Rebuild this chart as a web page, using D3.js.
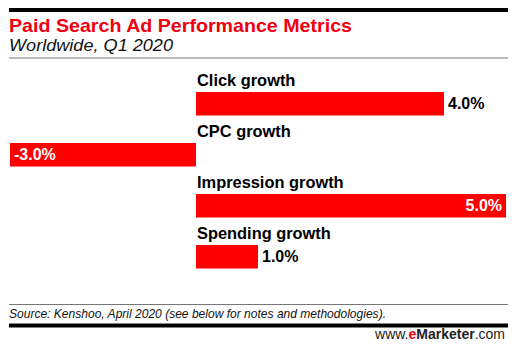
<!DOCTYPE html>
<html><head><meta charset="utf-8">
<script src="https://cdn.jsdelivr.net/npm/d3@7/dist/d3.min.js"></script>
<style>body{margin:0;background:#fff}svg{display:block}</style>
</head><body>
<script>
const categories = ["Click growth", "CPC growth", "Impression growth", "Spending growth"];
const values = [4.0, -3.0, 5.0, 1.0];
const valueLabels = ["4.0%", "-3.0%", "5.0%", "1.0%"];
const xDomain = [-3, 5];

const W = 527, H = 358;
const svg = d3.select("body").append("svg").attr("width", W).attr("height", H);
svg.append("rect").attr("width", W).attr("height", H).attr("fill", "#fff");

const left = 9, right = 508;
svg.append("rect").attr("x", left).attr("y", 8).attr("width", right - left).attr("height", 4).attr("fill", "#000");
svg.append("text").attr("x", left).attr("y", 32)
  .attr("font-family", "Liberation Sans, Arial, sans-serif").attr("font-weight", 900)
  .attr("font-size", 19).attr("fill", "#f00010")
  .attr("textLength", 343).attr("lengthAdjust", "spacingAndGlyphs")
  .text("Paid Search Ad Performance Metrics");
svg.append("text").attr("x", left).attr("y", 51)
  .attr("font-family", "Liberation Sans, Arial, sans-serif").attr("font-style", "italic")
  .attr("font-size", 17).attr("fill", "#111")
  .attr("textLength", 164).attr("lengthAdjust", "spacingAndGlyphs")
  .text("Worldwide, Q1 2020");
svg.append("rect").attr("x", left).attr("y", 57.5).attr("width", right - left).attr("height", 1).attr("fill", "#777");

const x = d3.scaleLinear().domain(xDomain).range([10, 506]);
const y = d3.scaleBand().domain(categories).range([66, 270]).paddingInner(0);

const rows = svg.append("g").selectAll("g").data(categories).join("g")
  .attr("transform", d => `translate(0,${y(d)})`);

rows.append("text").attr("x", x(0) + 1).attr("y", 20)
  .attr("font-family", "Liberation Sans, Arial, sans-serif").attr("font-weight", 700)
  .attr("font-size", 16.4).attr("fill", "#000")
  .text(d => d);

rows.append("rect")
  .attr("x", (d, i) => x(Math.min(0, values[i])))
  .attr("y", 26)
  .attr("width", (d, i) => Math.abs(x(values[i]) - x(0)))
  .attr("height", 23.5)
  .attr("fill", "#ff0000");

rows.append("text")
  .attr("x", (d, i) => {
    const v = values[i];
    if (v === xDomain[0]) return x(v) + 4;
    if (v === xDomain[1]) return x(v) - 4;
    return x(v) + 4;
  })
  .attr("text-anchor", (d, i) => values[i] === xDomain[1] ? "end" : "start")
  .attr("y", 43)
  .attr("font-family", "Liberation Sans, Arial, sans-serif").attr("font-weight", 700)
  .attr("font-size", 16)
  .attr("fill", (d, i) => (values[i] === xDomain[0] || values[i] === xDomain[1]) ? "#fff" : "#000")
  .text((d, i) => valueLabels[i]);

svg.append("rect").attr("x", left).attr("y", 304).attr("width", right - left).attr("height", 1).attr("fill", "#777");
svg.append("text").attr("x", left).attr("y", 318)
  .attr("font-family", "Liberation Sans, Arial, sans-serif").attr("font-style", "italic")
  .attr("font-size", 12.2).attr("fill", "#111")
  .attr("textLength", 377).attr("lengthAdjust", "spacingAndGlyphs")
  .text("Source: Kenshoo, April 2020 (see below for notes and methodologies).");
svg.append("rect").attr("x", left).attr("y", 323.5).attr("width", right - left).attr("height", 4).attr("fill", "#000");
const ft = svg.append("text").attr("x", 505).attr("y", 339).attr("text-anchor", "end")
  .attr("font-family", "Liberation Sans, Arial, sans-serif").attr("font-size", 14).attr("fill", "#222");
ft.append("tspan").text("www.");
ft.append("tspan").attr("fill", "#e8000b").attr("font-weight", 700).text("e");
ft.append("tspan").attr("font-weight", 700).text("Marketer");
ft.append("tspan").text(".com");
</script>
</body></html>
